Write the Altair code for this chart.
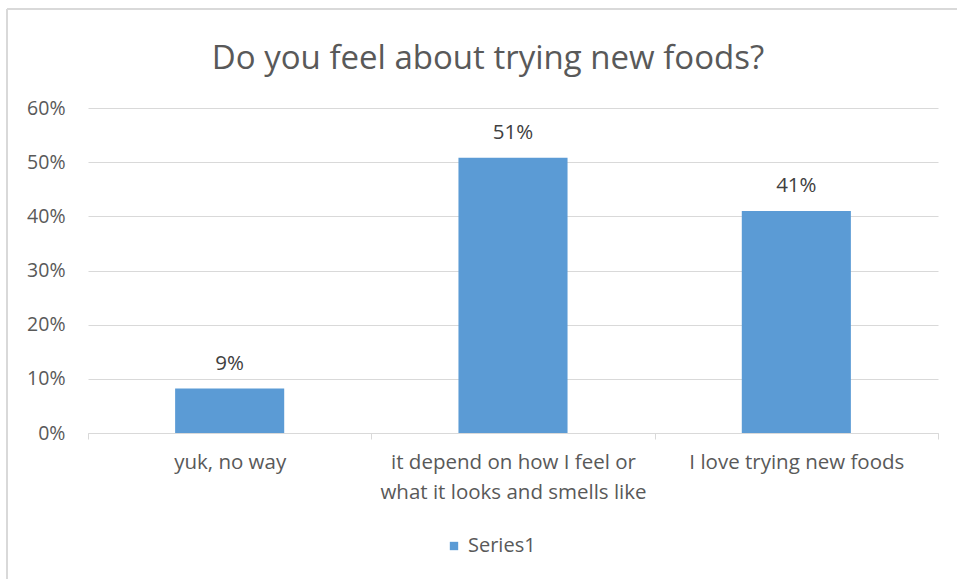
import altair as alt
import pandas as pd

categories = ["yuk, no way",
              "it depend on how I feel or\nwhat it looks and smells like",
              "I love trying new foods"]
values = [0.082, 0.508, 0.41]
value_labels = ["9%", "51%", "41%"]
series = ["Series1", "Series1", "Series1"]

df = pd.DataFrame({"cat": categories, "value": values, "lab": value_labels, "series": series})

FONT = "Open Sans"
GREY = "#595959"
LINE = "#d9d9d9"
BLUE = "#5b9bd5"

x_enc = alt.X("cat:N", sort=categories, title=None,
              scale=alt.Scale(paddingInner=0, paddingOuter=0),
              axis=alt.Axis(labelAngle=0, labelExpr="split(datum.label, '\\n')",
                            labelLineHeight=30, labelFontSize=20.5, labelColor=GREY,
                            labelFont=FONT, labelPadding=13, tickBand="extent",
                            labelLimit=0,
                            ticks=True, tickSize=6, tickColor=LINE, domainColor=LINE,
                            grid=False, labelBaseline="top"))
y_enc = alt.Y("value:Q", title=None,
              scale=alt.Scale(domain=[0, 0.6]),
              axis=alt.Axis(format=".0%", values=[0, 0.1, 0.2, 0.3, 0.4, 0.5, 0.6],
                            labelFontSize=19.5, labelColor=GREY, labelFont=FONT,
                            labelPadding=23, ticks=False, domain=False,
                            gridColor=LINE, gridWidth=1))

bars = alt.Chart(df).mark_bar(width=alt.RelativeBandSize(0.385), color=BLUE).encode(
    x=x_enc, y=y_enc,
    color=alt.Color("series:N", scale=alt.Scale(range=[BLUE]),
                    legend=alt.Legend(title=None, orient="none", legendX=356, legendY=428,
                                      symbolType="square", symbolSize=70,
                                      labelFontSize=20, labelColor=GREY, labelFont=FONT,
                                      symbolStrokeWidth=0)))

texts = alt.Chart(df).mark_text(baseline="alphabetic", dy=-19, fontSize=20.5,
                                color="#404040", font=FONT).encode(
    x=alt.X("cat:N", sort=categories), y="value:Q", text="lab:N")

frame_left = alt.Chart(df).mark_rule(color=LINE, strokeWidth=2).encode(
    x=alt.value(-81), y=alt.value(-99), y2=alt.value(480))
frame_top = alt.Chart(df).mark_rule(color=LINE, strokeWidth=2).encode(
    x=alt.value(-81), x2=alt.value(880), y=alt.value(-99))

chart = alt.layer(frame_left, frame_top, bars, texts).properties(
    width=850, height=325,
    padding={"left": 88, "top": 108, "right": 19, "bottom": 146},
    autosize=alt.AutoSizeParams(type="none"),
    background="white",
    title=alt.Title("Do you feel about trying new foods?", fontSize=33, color=GREY,
                    font=FONT, fontWeight="normal", anchor="middle", offset=-101, dx=-25,
                    baseline="bottom"),
).configure_view(strokeWidth=0)

chart.save("out.html", embed_options={"renderer": "svg", "actions": False})
